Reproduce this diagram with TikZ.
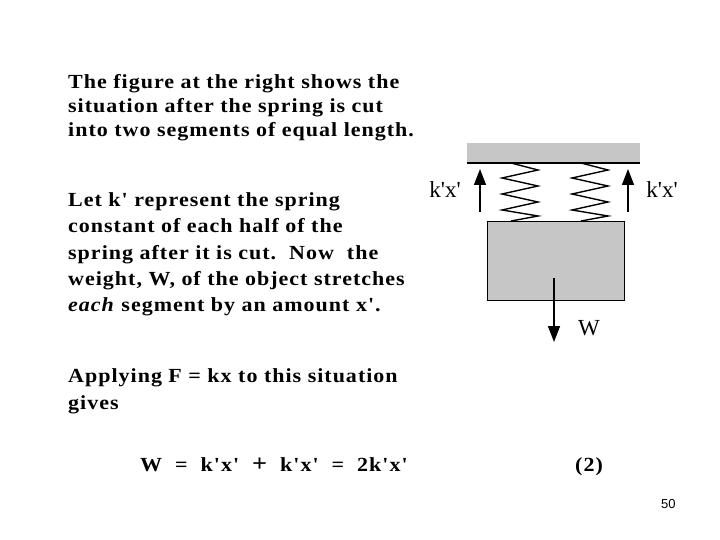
\documentclass[tikz,border=0pt]{standalone}
\usepackage{fontspec}
\usetikzlibrary{arrows.meta}
\setmainfont[FakeStretch=1.1,LetterSpace=5,Ligatures=TeXOff]{Liberation Serif}
\newfontfamily\lblf[Ligatures=TeXOff]{Liberation Serif}
\newfontfamily\sansf{Liberation Sans}
\newcommand\q{\char"27\relax}
\begin{document}
\begin{tikzpicture}[x=1pt,y=-1pt,
 txt/.style={anchor=base west,inner sep=0pt,font=\fontsize{20}{24}\selectfont\bfseries},
 lbl/.style={inner sep=0pt,font=\lblf\fontsize{23}{24}\selectfont},
 force/.style={-{Triangle[length=16pt,width=12pt]},line width=1.5pt}]
\useasboundingbox (0,0) rectangle (720,540);
\fill[white] (0,0) rectangle (720,540);
\node[txt] (t1) at (68,89) {The figure at the right shows the};
\node[txt] (t2) at (68,113) {situation after the spring is cut};
\node[txt] (t3) at (68,137) {into two segments of equal length.};
\node[txt] (t4) at (68,207) {Let k' represent the spring};
\node[txt] (t5) at (68,233) {constant of each half of the};
\node[txt] (t6) at (68,259) {spring after it is cut.\ \ Now\ \ the};
\node[txt] (t7) at (68,285) {weight, W, of the object stretches};
\node[txt] (t8) at (68,311) {\textit{each} segment by an amount x'.};
\node[txt] (t9) at (68,382) {Applying F = kx to this situation};
\node[txt] (t10) at (68,409) {gives};
\node[txt] (eq) at (140,471) {W\ \ =\ \ k'x'\ \ {\fontsize{24}{24}\selectfont+}\ \ k'x'\ \ =\ \ 2k'x'};
\node[txt] (n2) at (575,471) {(2)};
\node[anchor=base west,inner sep=0pt,font=\sansf\fontsize{13}{14}\selectfont] (pg) at (661,508) {50};
% ceiling
\fill[gray!45] (467,143) rectangle (640,163);
\draw[line width=1.5pt] (467,163) -- (640,163);
% springs
\foreach \cx in {521,591}{
 \draw[line width=1.4pt] (\cx-10,163) -- (\cx+17,170) -- (\cx-19,178) -- (\cx+17,186) -- (\cx-19,194) -- (\cx+17,202) -- (\cx-19,210) -- (\cx+17,216) -- (\cx-10,221);
}
% block
\node[draw,line width=1.3pt,fill=gray!45,minimum width=137pt,minimum height=79pt,inner sep=0pt,anchor=north west] (blk) at (487,221) {};
\coordinate (la) at (480,212); \coordinate (lb) at (480,169);
\coordinate (ra) at (628,212); \coordinate (rb) at (628,169);
\coordinate (wa) at (554,278); \coordinate (wb) at (554,342);
\draw[force] (la) -- (lb);
\draw[force] (ra) -- (rb);
\draw[force] (wa) -- (wb);
\node[lbl] (kl) at (445,190) {k'x'};
\node[lbl] (kr) at (662,190) {k'x'};
\node[lbl] (w) at (589,328) {W};
\end{tikzpicture}
\end{document}
